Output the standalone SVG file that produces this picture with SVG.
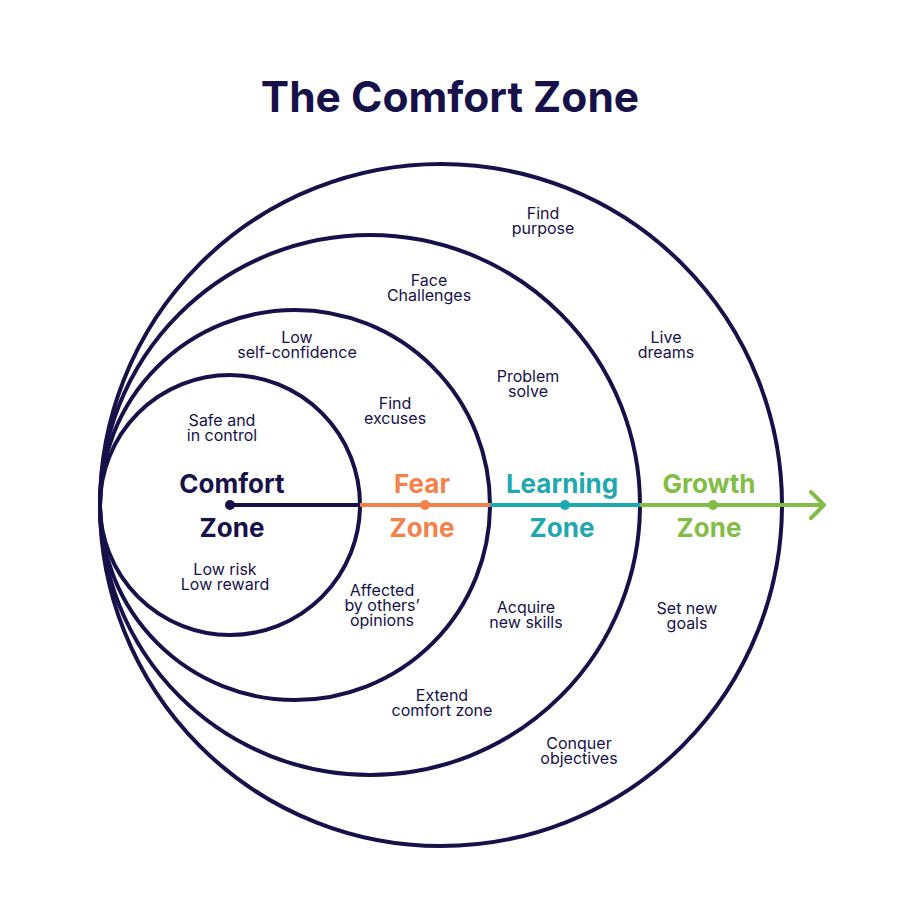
<svg xmlns="http://www.w3.org/2000/svg" width="900" height="900" viewBox="0 0 900 900">
<style>
.ring{fill:none;stroke:#17114a;stroke-width:4}
.t{font-family:Inter,"Noto Sans",sans-serif;font-size:16px;fill:#17114a;text-anchor:middle}
.z{font-family:Inter,"Noto Sans",sans-serif;font-size:26px;font-weight:700;text-anchor:middle}
.title{font-family:Inter,"Noto Sans",sans-serif;font-size:42.5px;font-weight:700;fill:#17114a;text-anchor:middle}
</style>
<rect width="900" height="900" fill="#fff"/>
<text class="title" x="450" y="112">The Comfort Zone</text>
<g id="growth-zone">
<circle class="ring" cx="441" cy="505" r="341"/>
<text class="z" fill="#84bd45" x="709" y="493">Growth</text>
<text class="z" fill="#84bd45" x="709" y="537">Zone</text>
<text class="t" x="543" y="219">Find<tspan x="543" dy="15">purpose</tspan></text>
<text class="t" x="666" y="343">Live<tspan x="666" dy="15">dreams</tspan></text>
<text class="t" x="687" y="614">Set new<tspan x="687" dy="15">goals</tspan></text>
<text class="t" x="579" y="749">Conquer<tspan x="579" dy="15">objectives</tspan></text>
</g>
<g id="learning-zone">
<circle class="ring" cx="370" cy="505" r="270"/>
<text class="z" fill="#1fa8b0" x="562" y="493">Learning</text>
<text class="z" fill="#1fa8b0" x="562" y="537">Zone</text>
<text class="t" x="429" y="286">Face<tspan x="429" dy="15">Challenges</tspan></text>
<text class="t" x="528" y="382">Problem<tspan x="528" dy="15">solve</tspan></text>
<text class="t" x="526" y="613">Acquire<tspan x="526" dy="15">new skills</tspan></text>
<text class="t" x="442" y="701">Extend<tspan x="442" dy="15">comfort zone</tspan></text>
</g>
<g id="fear-zone">
<circle class="ring" cx="295" cy="505" r="195"/>
<text class="z" fill="#f4804a" x="422" y="493">Fear</text>
<text class="z" fill="#f4804a" x="422" y="537">Zone</text>
<text class="t" x="297" y="343">Low<tspan x="297" dy="15">self-confidence</tspan></text>
<text class="t" x="395" y="409">Find<tspan x="395" dy="15">excuses</tspan></text>
<text class="t" x="382" y="596">Affected<tspan x="382" dy="15">by others’</tspan><tspan x="382" dy="15">opinions</tspan></text>
</g>
<g id="comfort-zone">
<circle class="ring" cx="230" cy="505" r="130"/>
<text class="z" fill="#17114a" x="232" y="493">Comfort</text>
<text class="z" fill="#17114a" x="232" y="537">Zone</text>
<text class="t" x="222" y="426">Safe and<tspan x="222" dy="15">in control</tspan></text>
<text class="t" x="225" y="575">Low risk<tspan x="225" dy="15">Low reward</tspan></text>
</g>
<g id="connectors" stroke-width="4" fill="none">
<line x1="230" y1="505" x2="360" y2="505" stroke="#17114a"/>
<line x1="360" y1="505" x2="490" y2="505" stroke="#f4804a"/>
<line x1="490" y1="505" x2="640" y2="505" stroke="#1fa8b0"/>
<line x1="640" y1="505" x2="824" y2="505" stroke="#84bd45"/>
<polyline points="811,492 824,505 811,518" stroke="#84bd45" stroke-linejoin="round" stroke-linecap="round"/>
<circle cx="230" cy="505" r="5" fill="#17114a" stroke="none"/>
<circle cx="425" cy="505" r="5" fill="#f4804a" stroke="none"/>
<circle cx="565" cy="505" r="5" fill="#1fa8b0" stroke="none"/>
<circle cx="713" cy="505" r="5" fill="#84bd45" stroke="none"/>
</g>
</svg>
